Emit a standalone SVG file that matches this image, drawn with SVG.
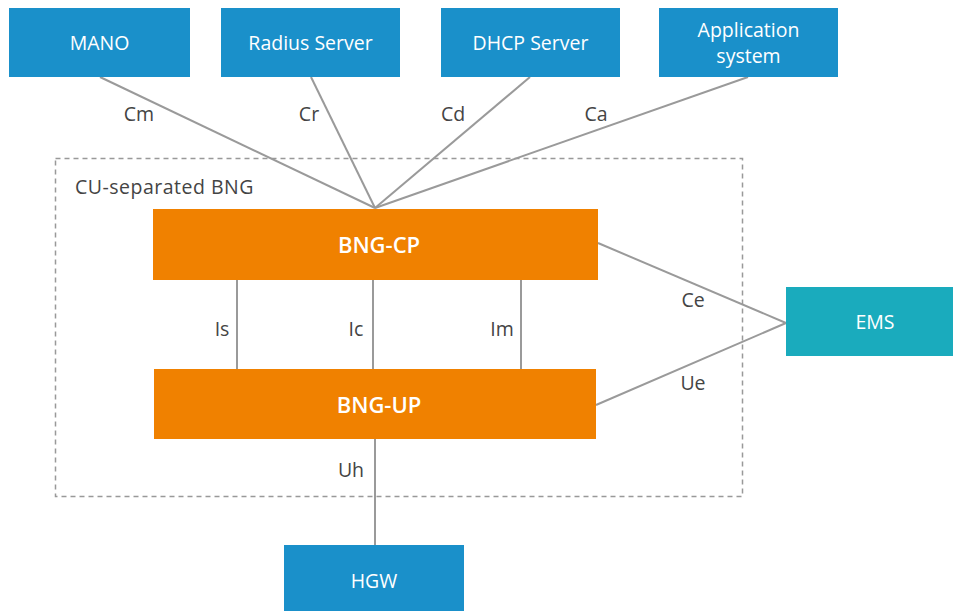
<svg xmlns="http://www.w3.org/2000/svg" width="953" height="611" viewBox="0 0 953 611">
<style>
.blue{fill:#1a90ca}
.orange{fill:#f08100}
.teal{fill:#1aabbd}
.nt{font-family:"Open Sans","Noto Sans",sans-serif;font-size:19.5px;fill:#fff;text-anchor:middle}
.bt{font-family:"Open Sans","Noto Sans",sans-serif;font-size:22px;font-weight:600;fill:#fff;text-anchor:middle}
.lb{font-family:"Open Sans","Noto Sans",sans-serif;font-size:19.5px;fill:#444;text-anchor:middle}
.ln{stroke:#9a9a9a;stroke-width:2;fill:none}
</style>
<rect x="55.5" y="158.5" width="687" height="338" fill="none" stroke="#999" stroke-width="1.5" stroke-dasharray="5,4"/>
<text class="lb" x="75" y="194" style="text-anchor:start;letter-spacing:0.5px">CU-separated BNG</text>
<g id="connectors">
<line class="ln" x1="100" y1="77" x2="375" y2="208"/>
<line class="ln" x1="311" y1="77" x2="375" y2="208"/>
<line class="ln" x1="530" y1="77" x2="375" y2="208"/>
<line class="ln" x1="748" y1="77" x2="375" y2="208"/>
<line class="ln" x1="237" y1="280" x2="237" y2="369"/>
<line class="ln" x1="373" y1="280" x2="373" y2="369"/>
<line class="ln" x1="521" y1="280" x2="521" y2="369"/>
<line class="ln" x1="598" y1="243" x2="786" y2="323"/>
<line class="ln" x1="596" y1="405" x2="786" y2="323"/>
<line class="ln" x1="375" y1="439" x2="375" y2="545"/>
<text class="lb" x="139" y="121">Cm</text>
<text class="lb" x="309" y="121">Cr</text>
<text class="lb" x="453" y="121">Cd</text>
<text class="lb" x="596" y="121">Ca</text>
<text class="lb" x="222" y="336">Is</text>
<text class="lb" x="356" y="336">Ic</text>
<text class="lb" x="502" y="336">Im</text>
<text class="lb" x="693" y="307">Ce</text>
<text class="lb" x="693" y="390">Ue</text>
<text class="lb" x="351" y="477">Uh</text>
</g>
<g id="mano"><rect class="blue" x="9" y="8" width="181" height="69"/><text class="nt" x="99.5" y="50">MANO</text></g>
<g id="radius"><rect class="blue" x="221" y="8" width="179" height="69"/><text class="nt" x="310.5" y="50">Radius Server</text></g>
<g id="dhcp"><rect class="blue" x="441" y="8" width="179" height="69"/><text class="nt" x="530.5" y="50">DHCP Server</text></g>
<g id="app"><rect class="blue" x="659" y="8" width="179" height="69"/><text class="nt" x="748.5" y="37">Application</text><text class="nt" x="748.5" y="63">system</text></g>
<g id="bngcp"><rect class="orange" x="153" y="209" width="445" height="71"/><text class="bt" x="379" y="253">BNG-CP</text></g>
<g id="bngup"><rect class="orange" x="154" y="369" width="442" height="70"/><text class="bt" x="379" y="413">BNG-UP</text></g>
<g id="ems"><rect class="teal" x="786" y="287" width="167" height="69"/><text class="nt" x="875" y="329">EMS</text></g>
<g id="hgw"><rect class="blue" x="284" y="545" width="180" height="66"/><text class="nt" x="374" y="588">HGW</text></g>
</svg>
